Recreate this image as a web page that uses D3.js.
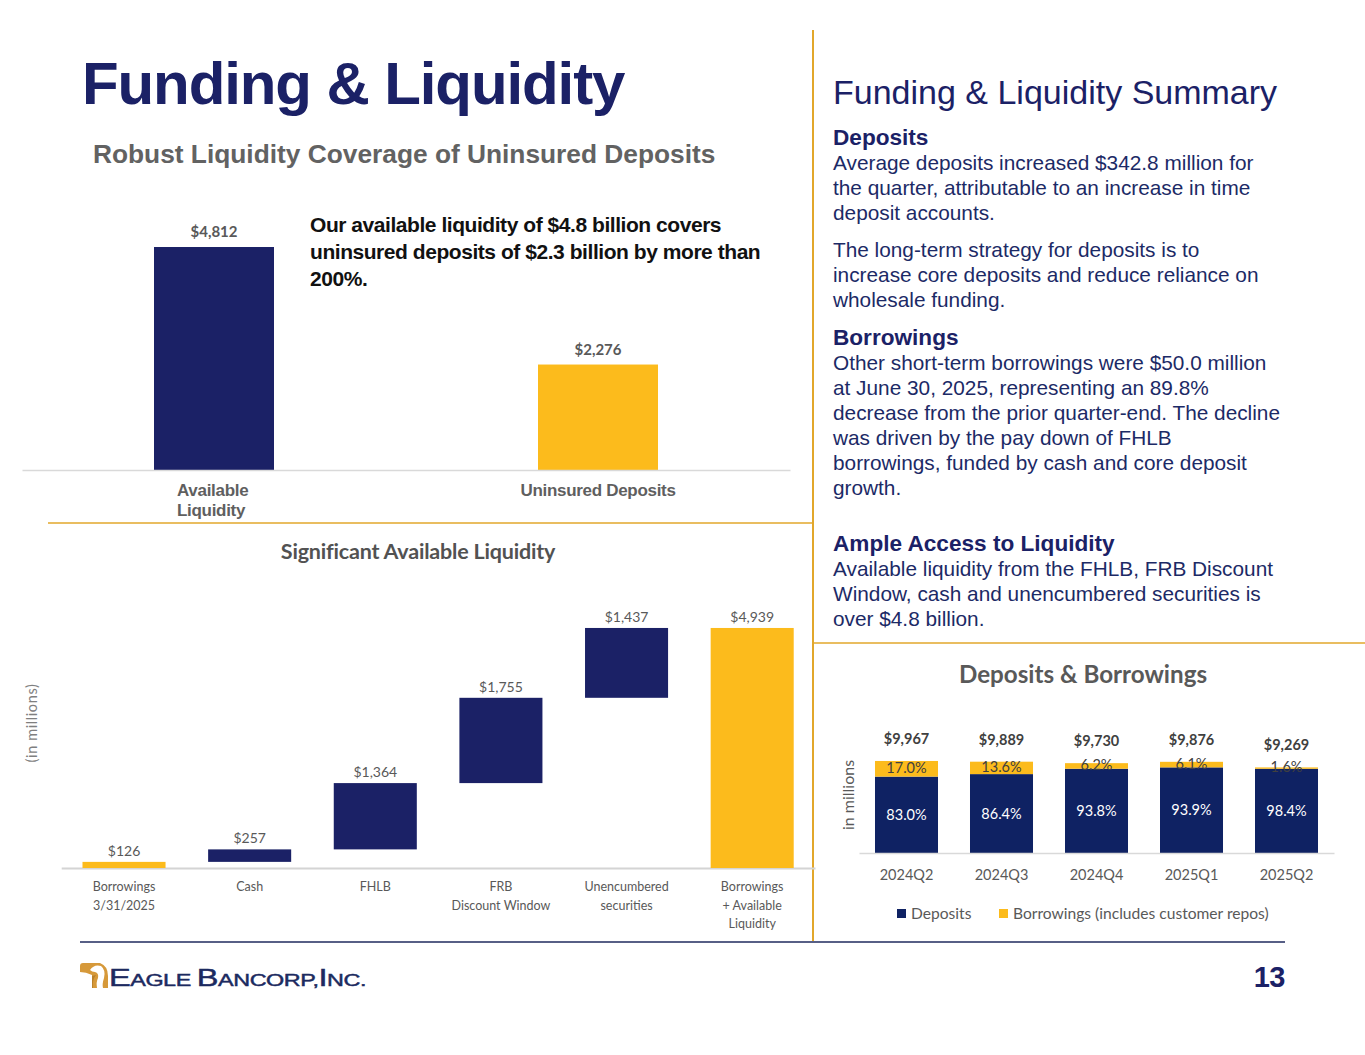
<!DOCTYPE html>
<html><head><meta charset="utf-8">
<script src="https://cdn.jsdelivr.net/npm/d3@7"></script>
<style>body{margin:0;background:#fff}svg{display:block}</style>
</head><body>
<svg id="c" width="1365" height="1055"></svg>
<script>
// ---------- DATA ----------
const coverageCategories = ["Available Liquidity", "Uninsured Deposits"];
const coverageValues = [4812, 2276];

const waterfallCategories = ["Borrowings|3/31/2025", "Cash", "FHLB", "FRB|Discount Window", "Unencumbered|securities", "Borrowings|+ Available|Liquidity"];
const waterfallValues = [126, 257, 1364, 1755, 1437, 4939];
const waterfallIsTotal = [true, false, false, false, false, true];

const quarters = ["2024Q2", "2024Q3", "2024Q4", "2025Q1", "2025Q2"];
const quarterTotals = [9967, 9889, 9730, 9876, 9269];
const depositShare = [83.0, 86.4, 93.8, 93.9, 98.4];
const borrowingShare = [17.0, 13.6, 6.2, 6.1, 1.6];
const seriesNames = ["Deposits", "Borrowings (includes customer repos)"];

// ---------- STYLE ----------
const NAVY = "#1b2166", NAVY2 = "#0f2263", GOLD = "#fcbb1c", LINEGOLD = "#e2a72b";
const ARIAL = "'Liberation Sans', Arial, sans-serif";
const CAL = "Lato, Carlito, Calibri, sans-serif";
const svg = d3.select("#c");
svg.append("rect").attr("width", 1365).attr("height", 1055).attr("fill", "#fff");
const fmt = d3.format(",");

// ---------- PAGE FRAME ----------
svg.append("line").attr("x1", 813).attr("x2", 813).attr("y1", 30).attr("y2", 941).attr("stroke", LINEGOLD).attr("stroke-width", 2);
svg.append("line").attr("x1", 48).attr("x2", 813).attr("y1", 523).attr("y2", 523).attr("stroke", LINEGOLD).attr("stroke-width", 1.5);
svg.append("line").attr("x1", 814).attr("x2", 1365).attr("y1", 643).attr("y2", 643).attr("stroke", LINEGOLD).attr("stroke-width", 1.5);
svg.append("line").attr("x1", 80).attr("x2", 1285).attr("y1", 942).attr("y2", 942).attr("stroke", "#1f2a5e").attr("stroke-width", 1.5);

svg.append("text").attr("x", 82).attr("y", 104).attr("font-family", ARIAL).attr("font-weight", "bold")
  .attr("font-size", 60).attr("letter-spacing", -1.1).attr("fill", NAVY).text("Funding & Liquidity");
svg.append("text").attr("x", 93).attr("y", 163).attr("font-family", ARIAL).attr("font-weight", "bold")
  .attr("font-size", 26.3).attr("fill", "#626262").text("Robust Liquidity Coverage of Uninsured Deposits");

// ---------- TOP CHART: coverage ----------
{
  const x = d3.scaleBand().domain(coverageCategories).range([22, 790]).paddingInner(0.6875).paddingOuter(0.34375);
  const y = d3.scaleLinear().domain([0, 5000]).range([470, 238.3]);
  const g = svg.append("g");
  g.selectAll("rect").data(coverageValues).join("rect")
    .attr("x", (d, i) => x(coverageCategories[i])).attr("width", x.bandwidth())
    .attr("y", d => y(d)).attr("height", d => y(0) - y(d))
    .attr("fill", (d, i) => i === 0 ? NAVY : GOLD);
  g.selectAll("text.v").data(coverageValues).join("text").attr("class", "v")
    .attr("x", (d, i) => x(coverageCategories[i]) + x.bandwidth() / 2).attr("y", d => y(d) - 10)
    .attr("text-anchor", "middle").attr("font-family", CAL).attr("font-weight", "bold")
    .attr("font-size", 15).attr("fill", "#595959").text(d => "$" + fmt(d));
  const ax = g.append("g").attr("transform", "translate(0,470)").call(d3.axisBottom(x).tickSize(0).tickPadding(14));
  ax.select(".domain").attr("stroke", "#d9d9d9").attr("stroke-width", 1.5);
  ax.selectAll(".tick text").attr("font-family", ARIAL).attr("font-weight", "bold").attr("font-size", 17)
    .attr("fill", "#5f5f5f").attr("letter-spacing", -0.3)
    .each(function (d) {
      if (d === "Available Liquidity") {
        const t = d3.select(this).text(null).attr("text-anchor", "start");
        t.append("tspan").attr("x", -37).attr("dy", "0.71em").text("Available");
        t.append("tspan").attr("x", -37).attr("dy", "1.15em").text("Liquidity");
      }
    });
  svg.append("text").attr("font-family", ARIAL).attr("font-weight", "bold").attr("font-size", 21)
    .attr("letter-spacing", -0.45).attr("fill", "#111")
    .selectAll("tspan").data(["Our available liquidity of $4.8 billion covers", "uninsured deposits of $2.3 billion by more than", "200%."])
    .join("tspan").attr("x", 310).attr("y", (d, i) => 232 + i * 27).text(d => d);
}

// ---------- WATERFALL ----------
{
  const x = d3.scaleBand().domain(waterfallCategories).range([61.2, 815]).paddingInner(0.339).paddingOuter(0.1695);
  const y = d3.scaleLinear().domain([0, 5000]).range([868, 625]);
  let run = 0;
  const rows = waterfallValues.map((v, i) => {
    let y0, y1;
    if (waterfallIsTotal[i]) { y0 = 0; y1 = v; run = v; } else { y0 = run; y1 = run + v; run = y1; }
    return { cat: waterfallCategories[i], v, y0, y1, total: waterfallIsTotal[i] };
  });
  const g = svg.append("g");
  svg.append("text").attr("x", 418).attr("y", 559).attr("text-anchor", "middle").attr("font-family", CAL)
    .attr("font-weight", "bold").attr("font-size", 21.5).attr("letter-spacing", -0.2).attr("fill", "#525252").text("Significant Available Liquidity");
  svg.append("text").attr("transform", "translate(37,723) rotate(-90)").attr("text-anchor", "middle")
    .attr("font-family", CAL).attr("font-size", 14.5).attr("letter-spacing", 0.6).attr("fill", "#7f7f7f").text("(in millions)");
  const ax = g.append("g").attr("transform", "translate(0,868)").call(d3.axisBottom(x).tickSize(0).tickPadding(14).tickSizeOuter(0));
  ax.select(".domain").attr("stroke", "#d4d4d4").attr("stroke-width", 2);
  ax.selectAll(".tick text").attr("font-family", CAL).attr("font-size", 12.5).attr("fill", "#595959")
    .each(function (d) {
      const t = d3.select(this).text(null);
      d.split("|").forEach((s, i) => t.append("tspan").attr("x", 0).attr("dy", i === 0 ? "0.71em" : "1.5em").text(s));
    });
  g.selectAll("rect").data(rows).join("rect")
    .attr("x", d => x(d.cat)).attr("width", x.bandwidth())
    .attr("y", d => y(d.y1)).attr("height", d => y(d.y0) - y(d.y1))
    .attr("fill", d => d.total ? GOLD : NAVY);
  g.selectAll("text.v").data(rows).join("text").attr("class", "v")
    .attr("x", d => x(d.cat) + x.bandwidth() / 2).attr("y", d => y(d.y1) - 6)
    .attr("text-anchor", "middle").attr("font-family", CAL).attr("font-size", 14).attr("fill", "#595959")
    .text(d => "$" + fmt(d.v));
}

// ---------- RIGHT TEXT PANEL ----------
{
  const TXT = "#1c2a66";
  svg.append("text").attr("x", 833).attr("y", 104).attr("font-family", ARIAL).attr("font-size", 34)
    .attr("fill", NAVY).text("Funding & Liquidity Summary");
  const heads = [["Deposits", 145], ["Borrowings", 345], ["Ample Access to Liquidity", 551]];
  heads.forEach(([t, yy]) => svg.append("text").attr("x", 833).attr("y", yy).attr("font-family", ARIAL)
    .attr("font-weight", "bold").attr("font-size", 22.6).attr("fill", NAVY).text(t));
  const body = [
    ["Average deposits increased $342.8 million for", 170],
    ["the quarter, attributable to an increase in time", 195],
    ["deposit accounts.", 220],
    ["The long-term strategy for deposits is to", 257],
    ["increase core deposits and reduce reliance on", 282],
    ["wholesale funding.", 307],
    ["Other short-term borrowings were $50.0 million", 370],
    ["at June 30, 2025, representing an 89.8%", 395],
    ["decrease from the prior quarter-end. The decline", 420],
    ["was driven by the pay down of FHLB", 445],
    ["borrowings, funded by cash and core deposit", 470],
    ["growth.", 495],
    ["Available liquidity from the FHLB, FRB Discount", 576],
    ["Window, cash and unencumbered securities is", 601],
    ["over $4.8 billion.", 626]
  ];
  body.forEach(([t, yy]) => svg.append("text").attr("x", 833).attr("y", yy).attr("font-family", ARIAL)
    .attr("font-size", 20.8).attr("fill", TXT).text(t));
}

// ---------- DEPOSITS & BORROWINGS ----------
{
  const x = d3.scaleBand().domain(quarters).range([859, 1334]).paddingInner(0.3368).paddingOuter(0.1684);
  const y = d3.scaleLinear().domain([0, 12000]).range([853, 742.2]);
  const rows = quarters.map((q, i) => {
    const dep = quarterTotals[i] * depositShare[i] / 100;
    return { q, total: quarterTotals[i], dep, dp: depositShare[i], bp: borrowingShare[i] };
  });
  const g = svg.append("g");
  svg.append("text").attr("x", 1083).attr("y", 683).attr("text-anchor", "middle").attr("font-family", CAL)
    .attr("font-weight", "bold").attr("font-size", 24.2).attr("fill", "#595959").text("Deposits & Borrowings");
  svg.append("text").attr("transform", "translate(854,795) rotate(-90)").attr("text-anchor", "middle")
    .attr("font-family", CAL).attr("font-size", 16).attr("fill", "#595959").text("in millions");
  g.selectAll("rect.d").data(rows).join("rect").attr("class", "d")
    .attr("x", d => x(d.q)).attr("width", x.bandwidth()).attr("y", d => y(d.dep)).attr("height", d => y(0) - y(d.dep))
    .attr("fill", NAVY2);
  g.selectAll("rect.b").data(rows).join("rect").attr("class", "b")
    .attr("x", d => x(d.q)).attr("width", x.bandwidth()).attr("y", d => y(d.total)).attr("height", d => y(d.dep) - y(d.total))
    .attr("fill", GOLD);
  const ax = g.append("g").attr("transform", "translate(0,853)").call(d3.axisBottom(x).tickSize(0).tickPadding(17).tickSizeOuter(0));
  ax.select(".domain").attr("stroke", "#d9d9d9").attr("stroke-width", 1.5);
  ax.selectAll(".tick text").attr("font-family", CAL).attr("font-size", 14.5).attr("fill", "#595959");
  g.selectAll("text.dl").data(rows).join("text").attr("class", "dl")
    .attr("x", d => x(d.q) + x.bandwidth() / 2).attr("y", d => (y(0) + y(d.dep)) / 2).attr("dy", "0.35em")
    .attr("text-anchor", "middle").attr("font-family", CAL).attr("font-size", 14.5).attr("fill", "#fff")
    .text(d => d.dp.toFixed(1) + "%");
  g.selectAll("text.bl").data(rows).join("text").attr("class", "bl")
    .attr("x", d => x(d.q) + x.bandwidth() / 2).attr("y", d => (y(d.dep) + y(d.total)) / 2 - 1).attr("dy", "0.35em")
    .attr("text-anchor", "middle").attr("font-family", CAL).attr("font-size", 14.5).attr("fill", "#404040")
    .text(d => d.bp.toFixed(1) + "%");
  g.selectAll("text.tl").data(rows).join("text").attr("class", "tl")
    .attr("x", d => x(d.q) + x.bandwidth() / 2).attr("y", d => y(d.total) - 17)
    .attr("text-anchor", "middle").attr("font-family", CAL).attr("font-weight", "bold").attr("font-size", 14.5).attr("fill", "#404040")
    .text(d => "$" + fmt(d.total));
  const lg = svg.append("g").attr("font-family", CAL).attr("font-size", 15.6).attr("fill", "#595959");
  const legendX = [897, 999];
  seriesNames.forEach((n, i) => {
    lg.append("rect").attr("x", legendX[i]).attr("y", 909).attr("width", 9).attr("height", 9).attr("fill", i === 0 ? NAVY2 : GOLD);
    lg.append("text").attr("x", legendX[i] + 14).attr("y", 919).text(n);
  });
}

// ---------- FOOTER ----------
svg.append("text").attr("x", 1285).attr("y", 987).attr("text-anchor", "end").attr("font-family", ARIAL)
  .attr("font-weight", "bold").attr("font-size", 29).attr("letter-spacing", -0.5).attr("fill", NAVY).text("13");
{
  const lg = svg.append("g");
  lg.append("path").attr("d", "M80,966 Q80,963 83,963 L100,963 Q108,966 108,976 L108,988 L92,988 L92,975 Q86,972 80,972 Z")
    .attr("fill", "#d6993a");
  lg.append("path").attr("d", "M90,970 Q94,964 101,966 Q106,970 104,978 Q102,984 103,988 L97,988 Q96,982 98,978 Q99,973 95,972 Q92,972 90,970 Z")
    .attr("fill", "#fff");
  lg.append("path").attr("d", "M96,975 Q92,980 93,988 L92,988 L92,976 Z").attr("fill", "#b9802b");
  const t = lg.append("text").attr("x", 109).attr("y", 986).attr("font-family", ARIAL).attr("fill", "#1c2a60")
    .attr("textLength", 257).attr("lengthAdjust", "spacingAndGlyphs").attr("letter-spacing", -0.3)
    .attr("stroke", "#1c2a60").attr("stroke-width", 0.45);
  [["E", 23], ["AGLE ", 16.5], ["B", 23], ["ANCORP", 16.5], [",", 16.5], ["I", 23], ["NC.", 16.5]].forEach(([s, sz]) =>
    t.append("tspan").attr("font-size", sz).text(s));
}
</script>
</body></html>
